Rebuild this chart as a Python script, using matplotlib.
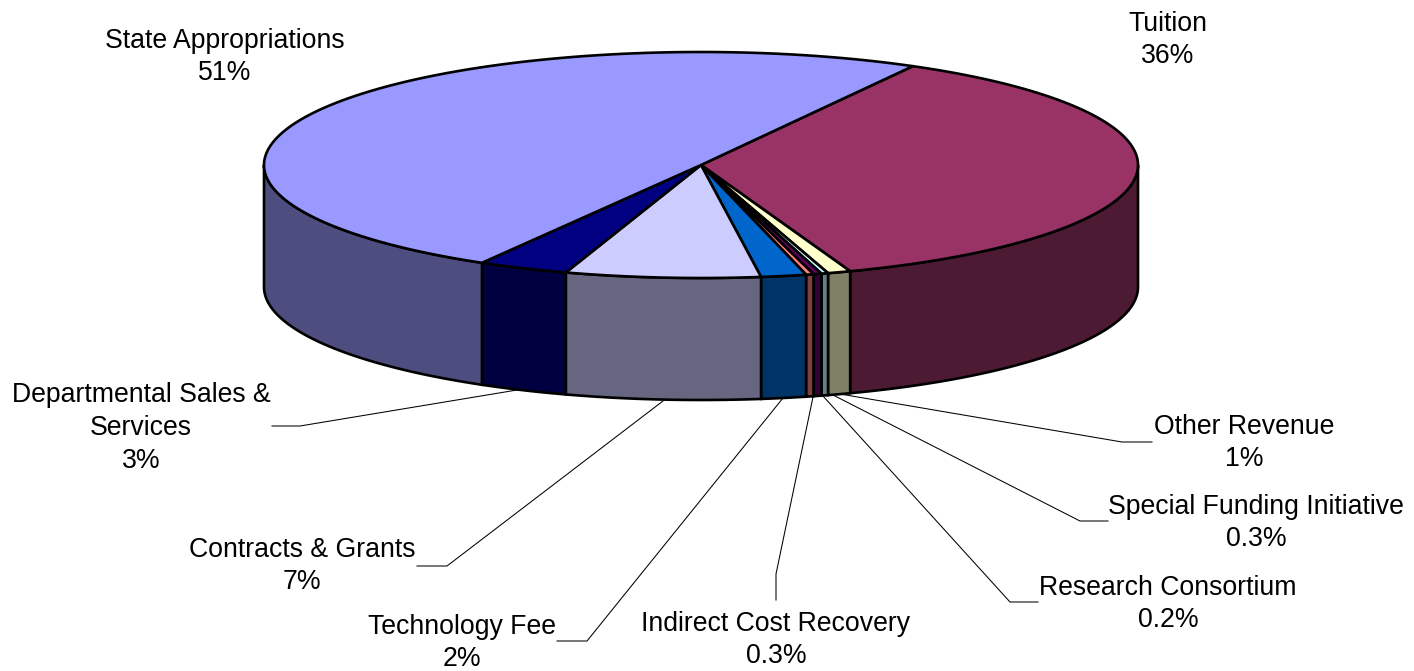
import numpy as np
import matplotlib
matplotlib.use('Agg')
import matplotlib.pyplot as plt

plt.rcParams['font.family'] = ['Liberation Sans', 'DejaVu Sans']

names = ['Tuition', 'Other Revenue', 'Special Funding Initiative', 'Research Consortium',
         'Indirect Cost Recovery', 'Technology Fee', 'Contracts & Grants',
         'Departmental Sales &\nServices', 'State Appropriations']
shown = ['36%', '1%', '0.3%', '0.2%', '0.3%', '2%', '7%', '3%', '51%']
shares = [36.4, 0.85, 0.25, 0.3, 0.28, 1.67, 7.2, 3.35, 49.7]
top_colors = ['#993366', '#FFFFCC', '#CCFFFF', '#660066', '#FF8080',
              '#0066CC', '#CCCCFF', '#000080', '#9999FF']
wall_colors = ['#4D1A33', '#808066', '#668080', '#330033', '#804040',
               '#003366', '#666680', '#000040', '#4D4D80']

# label block centres and leader paths in pixels
label_pos = [(1168, 40), (1244, 443), (1256, 523), (1168, 604), (776, 640),
             (462, 643), (302, 566), (141, 428), (225, 57)]
leaders = [None,
           [(840, 394), (1122, 442), (1152, 442)],
           [(833, 395), (1080, 521), (1108, 521)],
           [(823, 396), (1010, 602), (1038, 602)],
           [(813, 397), (776, 574), (776, 600)],
           [(783, 398), (587, 641), (557, 641)],
           [(663, 401), (447, 566), (417, 566)],
           [(517, 390), (300, 426), (272, 426)],
           None]

cx, cy, rx, ry, depth = 701, 165, 437, 113, 122
start = 61.0


def rim(a):
    a = np.radians(a)
    return cx + rx * np.cos(a), cy - ry * np.sin(a)


fig = plt.figure(figsize=(14.14, 6.71), dpi=100)
ax = fig.add_axes([0, 0, 1, 1])
ax.set_xlim(0, 1414)
ax.set_ylim(671, 0)
ax.axis('off')

spans = np.array(shares) / sum(shares) * 360
ends = start - np.cumsum(spans)
starts = ends + spans

# side walls first, only the part facing the viewer
for a0, a1, c in zip(starts, ends, wall_colors):
    hi = min(a0, 0)
    lo = max(a1, -180)
    if hi <= lo:
        continue
    t = np.linspace(hi, lo, 60)
    x, y = rim(t)
    ax.fill(np.r_[x, x[::-1]], np.r_[y, y[::-1] + depth], fc=c, ec='black', lw=1.9, zorder=2)

# top surface
for a0, a1, c in zip(starts, ends, top_colors):
    t = np.linspace(a0, a1, 200)
    x, y = rim(t)
    ax.fill(np.r_[cx, x], np.r_[cy, y], fc=c, ec='black', lw=1.9, zorder=3)

for path in leaders:
    if path:
        ax.plot(*zip(*path), color='black', lw=0.75, zorder=1)

for name, val, (x, y) in zip(names, shown, label_pos):
    ax.text(x, y, name + '\n' + val, ha='center', va='center', multialignment='center',
            fontsize=19.2, linespacing=1.33, color='black', zorder=4)

fig.savefig('out.png', dpi=100)
